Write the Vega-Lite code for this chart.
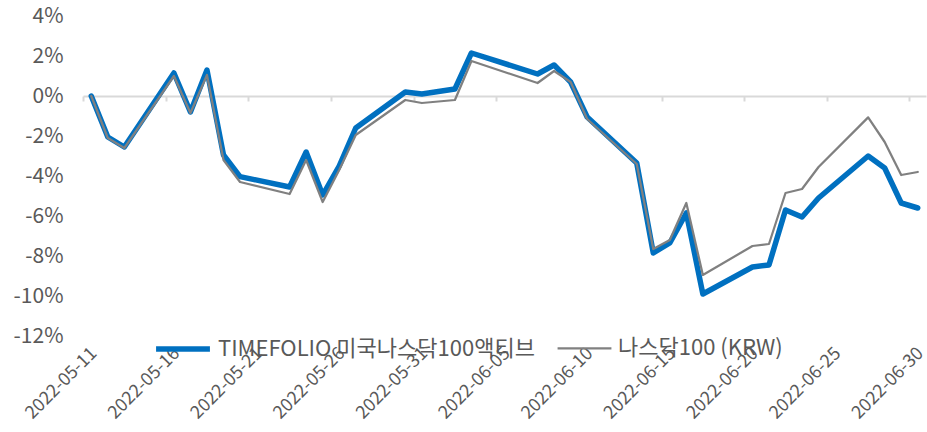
{
  "$schema": "https://vega.github.io/schema/vega-lite/v6.json",
  "width": 843,
  "height": 320,
  "autosize": "none",
  "padding": {"left": 83, "top": 16, "right": 1, "bottom": 96},
  "background": "white",
  "config": {"view": {"stroke": null}, "font": "Noto Sans CJK KR"},
  "data": {
    "values": [
      {"date": "2022-05-11", "series": "TIMEFOLIO 미국나스닥100액티브", "value": 0},
      {"date": "2022-05-12", "series": "TIMEFOLIO 미국나스닥100액티브", "value": -2.05},
      {"date": "2022-05-13", "series": "TIMEFOLIO 미국나스닥100액티브", "value": -2.55},
      {"date": "2022-05-16", "series": "TIMEFOLIO 미국나스닥100액티브", "value": 1.15},
      {"date": "2022-05-17", "series": "TIMEFOLIO 미국나스닥100액티브", "value": -0.8},
      {"date": "2022-05-18", "series": "TIMEFOLIO 미국나스닥100액티브", "value": 1.3},
      {"date": "2022-05-19", "series": "TIMEFOLIO 미국나스닥100액티브", "value": -2.95},
      {"date": "2022-05-20", "series": "TIMEFOLIO 미국나스닥100액티브", "value": -4.03},
      {"date": "2022-05-23", "series": "TIMEFOLIO 미국나스닥100액티브", "value": -4.55},
      {"date": "2022-05-24", "series": "TIMEFOLIO 미국나스닥100액티브", "value": -2.8},
      {"date": "2022-05-25", "series": "TIMEFOLIO 미국나스닥100액티브", "value": -4.95},
      {"date": "2022-05-26", "series": "TIMEFOLIO 미국나스닥100액티브", "value": -3.5},
      {"date": "2022-05-27", "series": "TIMEFOLIO 미국나스닥100액티브", "value": -1.6},
      {"date": "2022-05-30", "series": "TIMEFOLIO 미국나스닥100액티브", "value": 0.2},
      {"date": "2022-05-31", "series": "TIMEFOLIO 미국나스닥100액티브", "value": 0.1},
      {"date": "2022-06-02", "series": "TIMEFOLIO 미국나스닥100액티브", "value": 0.35},
      {"date": "2022-06-03", "series": "TIMEFOLIO 미국나스닥100액티브", "value": 2.15},
      {"date": "2022-06-07", "series": "TIMEFOLIO 미국나스닥100액티브", "value": 1.1},
      {"date": "2022-06-08", "series": "TIMEFOLIO 미국나스닥100액티브", "value": 1.55},
      {"date": "2022-06-09", "series": "TIMEFOLIO 미국나스닥100액티브", "value": 0.7},
      {"date": "2022-06-10", "series": "TIMEFOLIO 미국나스닥100액티브", "value": -1.05},
      {"date": "2022-06-13", "series": "TIMEFOLIO 미국나스닥100액티브", "value": -3.35},
      {"date": "2022-06-14", "series": "TIMEFOLIO 미국나스닥100액티브", "value": -7.85},
      {"date": "2022-06-15", "series": "TIMEFOLIO 미국나스닥100액티브", "value": -7.35},
      {"date": "2022-06-16", "series": "TIMEFOLIO 미국나스닥100액티브", "value": -5.85},
      {"date": "2022-06-17", "series": "TIMEFOLIO 미국나스닥100액티브", "value": -9.9},
      {"date": "2022-06-20", "series": "TIMEFOLIO 미국나스닥100액티브", "value": -8.55},
      {"date": "2022-06-21", "series": "TIMEFOLIO 미국나스닥100액티브", "value": -8.45},
      {"date": "2022-06-22", "series": "TIMEFOLIO 미국나스닥100액티브", "value": -5.7},
      {"date": "2022-06-23", "series": "TIMEFOLIO 미국나스닥100액티브", "value": -6.05},
      {"date": "2022-06-24", "series": "TIMEFOLIO 미국나스닥100액티브", "value": -5.1},
      {"date": "2022-06-27", "series": "TIMEFOLIO 미국나스닥100액티브", "value": -3.0},
      {"date": "2022-06-28", "series": "TIMEFOLIO 미국나스닥100액티브", "value": -3.6},
      {"date": "2022-06-29", "series": "TIMEFOLIO 미국나스닥100액티브", "value": -5.35},
      {"date": "2022-06-30", "series": "TIMEFOLIO 미국나스닥100액티브", "value": -5.6},
      {"date": "2022-05-11", "series": "나스닥100 (KRW)", "value": 0},
      {"date": "2022-05-12", "series": "나스닥100 (KRW)", "value": -2.1},
      {"date": "2022-05-13", "series": "나스닥100 (KRW)", "value": -2.6},
      {"date": "2022-05-16", "series": "나스닥100 (KRW)", "value": 1.0},
      {"date": "2022-05-17", "series": "나스닥100 (KRW)", "value": -0.85},
      {"date": "2022-05-18", "series": "나스닥100 (KRW)", "value": 1.05},
      {"date": "2022-05-19", "series": "나스닥100 (KRW)", "value": -3.2},
      {"date": "2022-05-20", "series": "나스닥100 (KRW)", "value": -4.3},
      {"date": "2022-05-23", "series": "나스닥100 (KRW)", "value": -4.9},
      {"date": "2022-05-24", "series": "나스닥100 (KRW)", "value": -3.2},
      {"date": "2022-05-25", "series": "나스닥100 (KRW)", "value": -5.3},
      {"date": "2022-05-26", "series": "나스닥100 (KRW)", "value": -3.7},
      {"date": "2022-05-27", "series": "나스닥100 (KRW)", "value": -1.95},
      {"date": "2022-05-30", "series": "나스닥100 (KRW)", "value": -0.2},
      {"date": "2022-05-31", "series": "나스닥100 (KRW)", "value": -0.35},
      {"date": "2022-06-02", "series": "나스닥100 (KRW)", "value": -0.2},
      {"date": "2022-06-03", "series": "나스닥100 (KRW)", "value": 1.75},
      {"date": "2022-06-07", "series": "나스닥100 (KRW)", "value": 0.65},
      {"date": "2022-06-08", "series": "나스닥100 (KRW)", "value": 1.25},
      {"date": "2022-06-09", "series": "나스닥100 (KRW)", "value": 0.7},
      {"date": "2022-06-10", "series": "나스닥100 (KRW)", "value": -1.15},
      {"date": "2022-06-13", "series": "나스닥100 (KRW)", "value": -3.4},
      {"date": "2022-06-14", "series": "나스닥100 (KRW)", "value": -7.65},
      {"date": "2022-06-15", "series": "나스닥100 (KRW)", "value": -7.2},
      {"date": "2022-06-16", "series": "나스닥100 (KRW)", "value": -5.35},
      {"date": "2022-06-17", "series": "나스닥100 (KRW)", "value": -8.95},
      {"date": "2022-06-20", "series": "나스닥100 (KRW)", "value": -7.5},
      {"date": "2022-06-21", "series": "나스닥100 (KRW)", "value": -7.4},
      {"date": "2022-06-22", "series": "나스닥100 (KRW)", "value": -4.85},
      {"date": "2022-06-23", "series": "나스닥100 (KRW)", "value": -4.65},
      {"date": "2022-06-24", "series": "나스닥100 (KRW)", "value": -3.55},
      {"date": "2022-06-27", "series": "나스닥100 (KRW)", "value": -1.07},
      {"date": "2022-06-28", "series": "나스닥100 (KRW)", "value": -2.3},
      {"date": "2022-06-29", "series": "나스닥100 (KRW)", "value": -3.95},
      {"date": "2022-06-30", "series": "나스닥100 (KRW)", "value": -3.8}
    ]
  },
  "mark": {"type": "line", "strokeCap": "round", "strokeJoin": "round"},
  "encoding": {
    "x": {
      "field": "date",
      "type": "temporal",
      "scale": {
        "type": "utc",
        "domain": [
          {"year": 2022, "month": 5, "date": 10, "hours": 12, "utc": true},
          {"year": 2022, "month": 6, "date": 30, "hours": 12, "utc": true}
        ],
        "nice": false
      },
      "axis": {
        "title": null,
        "values": [
          {"year": 2022, "month": 5, "date": 11, "utc": true},
          {"year": 2022, "month": 5, "date": 16, "utc": true},
          {"year": 2022, "month": 5, "date": 21, "utc": true},
          {"year": 2022, "month": 5, "date": 26, "utc": true},
          {"year": 2022, "month": 5, "date": 31, "utc": true},
          {"year": 2022, "month": 6, "date": 5, "utc": true},
          {"year": 2022, "month": 6, "date": 10, "utc": true},
          {"year": 2022, "month": 6, "date": 15, "utc": true},
          {"year": 2022, "month": 6, "date": 20, "utc": true},
          {"year": 2022, "month": 6, "date": 25, "utc": true},
          {"year": 2022, "month": 6, "date": 30, "utc": true}
        ],
        "labelExpr": "utcFormat(datum.value, '%Y-%m-%d')",
        "labelAngle": -45,
        "labelFontSize": 18,
        "labelColor": "#595959",
        "labelFont": "Noto Sans CJK KR",
        "offset": -240,
        "domainColor": "#D9D9D9",
        "domainWidth": 2,
        "tickColor": "#D9D9D9",
        "tickWidth": 2,
        "tickSize": 5,
        "tickOffset": -8.26,
        "labelOffset": 4.5,
        "labelPadding": 243,
        "grid": false,
        "labelOverlap": false,
        "labelFlush": false,
        "zindex": 0
      }
    },
    "y": {
      "field": "value",
      "type": "quantitative",
      "scale": {"domain": [-12, 4], "nice": false, "zero": false},
      "axis": {
        "title": null,
        "values": [-12, -10, -8, -6, -4, -2, 0, 2, 4],
        "labelExpr": "datum.value + '%'",
        "labelFontSize": 21,
        "labelColor": "#595959",
        "labelFont": "Noto Sans CJK KR",
        "labelPadding": 20,
        "domain": false,
        "ticks": false,
        "grid": false
      }
    },
    "color": {
      "field": "series",
      "type": "nominal",
      "sort": ["TIMEFOLIO 미국나스닥100액티브", "나스닥100 (KRW)"],
      "scale": {"domain": ["TIMEFOLIO 미국나스닥100액티브", "나스닥100 (KRW)"], "range": ["#0070C0", "#808080"]},
      "legend": {
        "title": null,
        "orient": "none",
        "direction": "horizontal",
        "legendX": 70,
        "legendY": 303,
        "symbolType": "stroke",
        "symbolSize": 2900,
        "labelFontSize": 22,
        "labelColor": "#595959",
        "labelFont": "Noto Sans CJK KR",
        "labelLimit": 500,
        "labelOffset": 5,
        "columnPadding": 18,
        "symbolStrokeColor": null
      }
    },
    "strokeWidth": {
      "field": "series",
      "type": "nominal",
      "sort": ["TIMEFOLIO 미국나스닥100액티브", "나스닥100 (KRW)"],
      "scale": {"domain": ["TIMEFOLIO 미국나스닥100액티브", "나스닥100 (KRW)"], "range": [5.5, 2.25]},
      "legend": null
    }
  }
}
